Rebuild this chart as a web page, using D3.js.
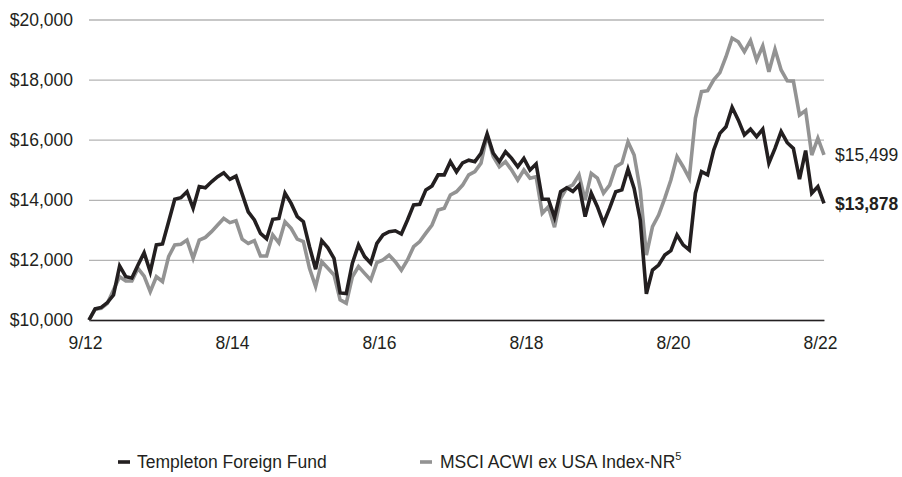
<!DOCTYPE html>
<html>
<head>
<meta charset="utf-8">
<script src="https://cdn.jsdelivr.net/npm/d3@7"></script>
<style>
  body { margin: 0; background: #fff; }
  svg text { font-family: "Liberation Sans", Arial, sans-serif; fill: #231f20; }
</style>
</head>
<body>
<svg width="902" height="477"></svg>
<script>
// month index 0 = 9/12 start, 120 = 8/22
let tickIdx = [0, 24, 48, 72, 96, 120]
let tickLabels = ["9/12", "8/14", "8/16", "8/18", "8/20", "8/22"]
let yTicks = [10000, 12000, 14000, 16000, 18000, 20000]

let fund = [10000, 10370, 10420, 10580, 10830, 11800, 11440, 11400, 11830, 12240,
  11600, 12500, 12530, 13270, 14020, 14070, 14270, 13720, 14440, 14400,
  14600, 14770, 14900, 14680, 14790, 14200, 13600, 13330, 12880, 12700,
  13350, 13380, 14220, 13880, 13440, 13270, 12440, 11690, 12640, 12400,
  12050, 10900, 10880, 11890, 12500, 12110, 11890, 12550, 12830, 12940,
  12970, 12860, 13330, 13830, 13850, 14330, 14460, 14830, 14830, 15270,
  14930, 15230, 15320, 15270, 15550, 16190, 15550, 15270, 15600, 15380,
  15100, 15380, 14990, 15190, 14020, 14020, 13420, 14270, 14400, 14280,
  14490, 13440, 14220, 13770, 13220, 13720, 14270, 14330, 15020, 14380,
  13330, 10870, 11660, 11830, 12160, 12310, 12830, 12500, 12330, 14220,
  14940, 14830, 15660, 16210, 16430, 17080, 16660, 16160, 16350, 16100,
  16350, 15220, 15710, 16270, 15900, 15710, 14690, 15640, 14220, 14440,
  13878]

let index = [10000, 10355, 10390, 10555, 11000, 11440, 11300, 11300, 11720, 11460,
  10940, 11440, 11280, 12110, 12500, 12520, 12660, 12050, 12660, 12750,
  12940, 13160, 13380, 13240, 13300, 12690, 12550, 12640, 12130, 12130,
  12830, 12570, 13270, 13050, 12690, 12610, 11720, 11110, 11940, 11720,
  11500, 10670, 10560, 11440, 11780, 11550, 11330, 11910, 12000, 12160,
  11940, 11660, 12000, 12440, 12610, 12890, 13160, 13660, 13720, 14160,
  14270, 14490, 14830, 14940, 15220, 16160, 15440, 15100, 15270, 14990,
  14660, 14990, 14720, 14770, 13550, 13770, 13090, 14050, 14400, 14500,
  14830, 13990, 14880, 14720, 14220, 14490, 15100, 15220, 15930, 15490,
  14330, 12160, 13110, 13490, 14050, 14660, 15440, 15100, 14720, 16710,
  17600, 17630, 17990, 18230, 18760, 19380, 19260, 18930, 19300, 18650,
  19120, 18260, 19010, 18320, 17960, 17950, 16820, 16970, 15490, 16050,
  15499]

var svg = d3.select("svg")
var plotL = 89, plotR = 824, plotT = 19.5, plotB = 320

var x = d3.scaleLinear().domain([0, 120]).range([plotL, plotR])
var y = d3.scaleLinear().domain([10000, 20000]).range([plotB, plotT])
var fmt = d3.format("$,")

svg.append("rect").attr("width", 902).attr("height", 477).attr("fill", "#fff")

// y gridlines + labels
var ya = svg.append("g")
  .attr("transform", "translate(" + plotL + ",0)")
  .call(d3.axisLeft(y).tickValues(yTicks).tickSize(-(plotR - plotL)).tickPadding(16).tickFormat(fmt))
ya.select(".domain").remove()
ya.selectAll(".tick line").attr("stroke", "#b4b4b4").attr("stroke-width", 1.3)
ya.selectAll(".tick text").attr("font-size", "17.5px").style("font-family", "Liberation Sans, Arial, sans-serif").attr("fill", "#231f20")

// x axis
var xa = svg.append("g")
  .attr("transform", "translate(0," + plotB + ")")
  .call(d3.axisBottom(x).tickValues(tickIdx).tickSize(0).tickPadding(17)
    .tickFormat(function (d, i) { return tickLabels[i]; }))
xa.select(".domain").attr("stroke", "#231f20").attr("stroke-width", 1.6)
xa.selectAll(".tick text").attr("font-size", "17.5px").attr("dx", -4)
  .style("font-family", "Liberation Sans, Arial, sans-serif").attr("fill", "#231f20")

var line = d3.line()
  .x(function (d, i) { return x(i); })
  .y(function (d) { return y(d); })

svg.append("path").datum(index)
  .attr("d", line).attr("fill", "none")
  .attr("stroke", "#939393").attr("stroke-width", 3.6).attr("stroke-linejoin", "miter")

svg.append("path").datum(fund)
  .attr("d", line).attr("fill", "none")
  .attr("stroke", "#231f20").attr("stroke-width", 3.6).attr("stroke-linejoin", "miter")

// end labels
svg.append("text")
  .attr("x", 835).attr("y", y(index[index.length - 1])).attr("dy", "0.36em")
  .attr("font-size", "17.5px")
  .text(fmt(index[index.length - 1]))

svg.append("text")
  .attr("x", 835).attr("y", y(fund[fund.length - 1])).attr("dy", "0.36em")
  .attr("font-size", "17.5px").attr("font-weight", "bold")
  .text(fmt(fund[fund.length - 1]))

// legend
var lg = svg.append("g").attr("transform", "translate(0,462)")
lg.append("line").attr("x1", 118).attr("x2", 130).attr("y1", 0).attr("y2", 0)
  .attr("stroke", "#231f20").attr("stroke-width", 3.6)
lg.append("text").attr("x", 137).attr("y", 0).attr("dy", "0.36em")
  .attr("font-size", "17.5px").text("Templeton Foreign Fund")
lg.append("line").attr("x1", 420).attr("x2", 432).attr("y1", 0).attr("y2", 0)
  .attr("stroke", "#939393").attr("stroke-width", 3.6)
var t2 = lg.append("text").attr("x", 440).attr("y", 0).attr("dy", "0.36em")
  .attr("font-size", "17.5px")
t2.append("tspan").text("MSCI ACWI ex USA Index-NR")
t2.append("tspan").attr("font-size", "11px").attr("dy", "-0.75em").text("5")
</script>
</body>
</html>
